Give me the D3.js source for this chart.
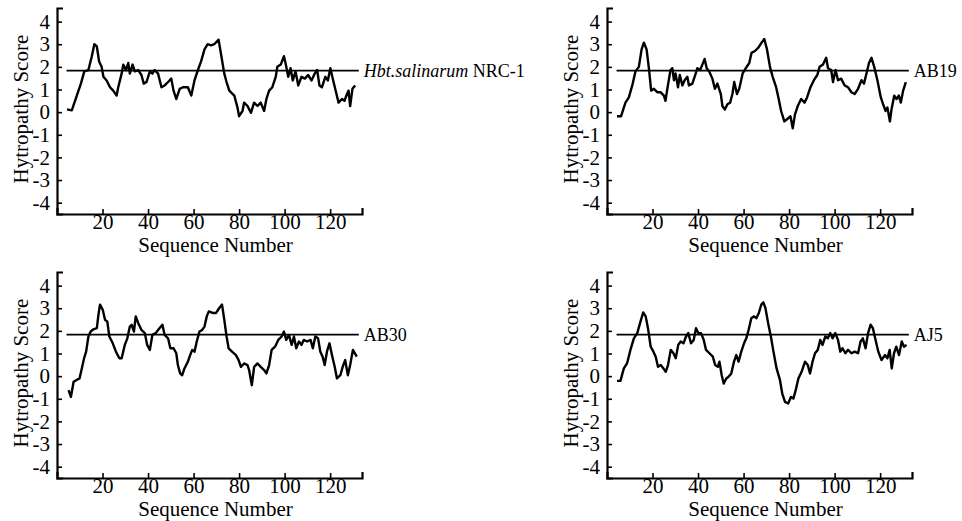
<!DOCTYPE html>
<html>
<head>
<meta charset="utf-8">
<script src="https://cdn.jsdelivr.net/npm/d3@7.9.0/dist/d3.min.js"></script>
<style>
  body { margin: 0; background: #fff; }
  svg { display: block; font-family: "Liberation Serif", "Times New Roman", serif; }
</style>
</head>
<body>
<svg id="chart" width="962" height="521"></svg>
<script>
// hydropathy profiles (sequence position, score)
const nrc1Seq = [4.4,6.5,8.7,10.5,12,13.8,15.3,16.4,17.5,18.5,19.6,20.4,21.8,23.3,24.7,26.2,26.9,28.4,29.1,30.3,
  31.3,32,33.2,34.2,35.7,37.1,38.1,39.3,40.8,41.9,42.9,44.4,45.9,47.3,48.8,50.2,51.2,52.4,53.9,55.3,
  57.5,59,60.4,61.9,63.3,64.8,66.2,67.7,69.1,71,72,73.5,74.5,75.7,77.9,79.3,80,81.5,82.2,83.7,
  85.2,86.6,88.1,89.5,91,92,93.2,94.6,96.1,96.8,98.3,99.7,100.4,101.6,102.6,103.6,104.8,106,107.4,108.9,
  110.3,111.8,113.2,114.3,115.3,116.4,117.9,119,120.1,121.5,122.6,123.7,125.2,126.3,127.4,128.1,128.8,129.8,131];
const nrc1Score = [0.12,0.08,0.73,1.26,1.8,1.86,2.47,3.0,2.9,2.24,2.0,1.56,1.4,1.1,0.95,0.73,1.1,1.7,2.1,1.86,
  2.17,1.7,2.1,1.8,1.86,1.64,1.26,1.33,1.8,1.7,1.86,1.7,1.1,1.18,1.33,1.48,0.95,0.58,1.03,1.1,
  1.1,0.73,1.4,1.86,2.24,2.77,3.0,2.95,3.0,3.2,2.6,1.7,1.33,0.95,0.73,0.2,-0.18,0.05,0.42,0.27,
  -0.03,0.42,0.27,0.42,0.05,0.58,0.95,1.1,1.56,2.0,2.1,2.47,2.17,1.56,1.94,1.4,1.8,1.18,1.56,1.48,
  1.64,1.4,1.7,1.86,1.18,1.1,1.56,1.4,1.94,1.33,0.88,0.42,0.58,0.5,0.8,0.95,0.27,1.03,1.18];

const ab19Seq = [4.4,6.2,8.1,9.6,11.1,12.5,14,15.2,16.2,17.4,18.4,19.4,20.6,22.1,23.5,25,25.7,26.5,27.9,28.7,
  29.4,30.1,31.2,32,33.1,34.1,35.3,36,37.5,39,39.7,40.9,41.9,42.9,43.8,44.9,46.3,47.4,48.5,50,
  50.7,51.8,52.9,54.1,55.1,55.9,57.1,58.1,59.6,61,62.5,63.5,65,66.5,67.9,69.1,70.3,71.6,72.8,74.3,
  75.3,76.5,77.9,79.4,80.6,81.6,82.6,83.8,85.3,86.8,87.9,89.4,90.9,92.4,93.4,94.9,96.3,97.1,98.5,99.3,
  100.4,101.5,102.9,104.4,105.9,107.4,108.8,110.3,111.8,112.9,114,115.1,116.2,117.4,118.8,120.3,121.3,122.4,123.2,124.3,
  125,126.2,127.2,128.2,129.1,130.1,131.3];
const ab19Score = [-0.18,-0.18,0.42,0.65,1.18,1.8,2.0,2.77,3.07,2.77,1.94,0.95,1.03,0.88,0.88,0.73,0.5,1.03,1.86,1.94,
  1.41,1.71,1.1,1.64,1.18,1.41,1.56,1.18,1.26,1.71,1.94,1.86,2.1,2.35,1.94,1.8,1.48,1.03,1.26,0.8,
  0.27,0.12,0.35,0.42,0.8,1.33,0.8,1.03,1.71,1.94,2.17,2.62,2.7,2.85,3.07,3.23,2.77,2.0,1.56,1.1,
  0.65,0.05,-0.41,-0.29,-0.18,-0.71,-0.1,0.27,0.58,0.42,0.65,1.1,1.41,1.64,2.0,2.1,2.4,1.94,1.86,1.33,
  1.86,1.41,1.48,1.18,1.1,0.88,0.8,1.03,1.41,1.26,1.71,2.17,2.4,2.0,1.41,0.65,0.35,0.05,0.2,-0.41,
  0.12,0.73,0.58,0.73,0.42,0.95,1.33];

const ab30Seq = [5.1,6.1,7.3,8.4,9.9,10.9,11.9,12.8,13.8,14.8,16,17.5,18.2,18.9,20.1,21.1,22.1,23,24.5,25.9,
  27.4,28.4,29.8,30.9,32,32.8,33.8,34.6,35.7,37.1,38.6,39.6,40.8,41.9,43.4,44.4,46.3,47.3,48.8,49.8,
  51.2,52.4,53.1,54.1,55,56,57.5,58.5,59.4,60.4,61.4,62.6,63.8,64.8,65.8,66.7,68.4,69.9,71.3,72.5,
  73.5,74.5,75.4,76.9,78.6,79.8,80.8,82.2,83.7,84.4,85.6,86.6,88.1,89.5,91,92,93.2,94.3,95.8,97.2,
  98.7,99.7,100.7,101.9,103.1,104.1,105.1,106.3,107.4,108.4,109.9,111.4,112.4,113.5,114.7,115.7,116.7,117.6,118.6,119.7,
  120.8,122,123,124.5,125.5,126.6,127.8,128.8,130,131.7];
const ab30Score = [-0.62,-0.92,-0.25,-0.18,-0.1,0.34,0.79,1.08,1.75,1.97,2.07,2.12,2.71,3.16,2.93,2.49,2.41,1.75,1.45,1.08,
  0.79,0.79,1.38,1.67,2.19,2.27,1.97,2.64,2.34,2.04,1.9,1.38,1.16,1.82,1.9,2.04,2.27,1.82,1.67,1.23,
  1.23,1.01,0.49,0.12,0.04,0.34,0.64,0.93,1.16,1.08,1.53,1.97,2.04,2.19,2.64,2.86,2.79,2.79,3.01,3.16,
  2.49,1.75,1.23,1.08,0.93,0.71,0.41,0.56,0.49,0.27,-0.4,0.41,0.56,0.41,0.27,0.12,0.49,1.16,1.3,1.6,
  1.75,1.97,1.6,1.82,1.38,1.75,1.23,1.53,1.38,1.6,1.53,1.6,1.23,1.75,1.67,1.08,0.86,0.49,1.08,1.45,
  0.93,0.41,-0.1,0.04,0.41,0.71,0.04,0.49,1.16,0.86];

const aj5Seq = [4.4,5.9,7.4,8.8,10.3,11.8,13.3,14.7,15.9,17,18,19.2,20.4,21.4,22.4,23.6,24.8,25.8,26.8,28,
  29.2,30.2,31.3,32.4,33.6,34.7,35.7,36.9,38.1,39.1,40.1,41.3,42.5,43.5,45,46.5,47.5,48.7,49.4,50.4,
  51.3,52.4,53.4,54.6,55.8,56.8,57.8,59,60.2,61.2,62.2,63.4,64.6,65.6,66.7,67.8,68.7,69.6,70.8,72,
  73,74.5,76,77,78.2,79.6,80.8,81.9,82.9,84.1,85.5,87,88.2,89.2,90.3,91.4,92.6,93.7,94.7,95.9,
  97,98.1,99.1,100.3,101.5,102.5,103.5,104.7,105.9,107.4,108.8,110.3,111.4,112.4,113.6,114.7,115.8,116.8,118,119.2,
  120.6,122.1,123.2,124.2,125.1,126.1,127.1,128.3,129.5,130.5,131.6];
const aj5Score = [-0.21,-0.21,0.34,0.56,1.16,1.67,1.9,2.41,2.81,2.64,2.12,1.3,1.08,0.86,0.41,0.49,0.34,0.19,0.49,1.16,
  1.01,0.79,1.38,1.53,1.45,1.75,1.9,1.45,1.6,2.12,1.9,1.9,1.6,1.16,1.01,0.86,0.49,0.41,0.64,0.04,
  -0.33,-0.1,-0.03,0.12,0.64,0.93,0.64,1.08,1.45,1.67,2.04,2.56,2.64,2.56,2.79,3.16,3.26,3.01,2.34,1.75,
  1.16,0.34,-0.18,-0.77,-1.14,-1.21,-0.92,-0.99,-0.62,-0.1,0.19,0.64,0.49,0.12,0.64,1.01,1.16,1.6,1.38,1.75,
  1.67,1.9,1.67,1.9,1.6,1.08,1.23,1.01,1.16,1.01,1.08,1.01,1.53,1.67,1.23,1.9,2.27,2.12,1.6,1.08,
  0.71,0.93,0.79,1.16,0.34,1.01,1.3,0.93,1.53,1.3,1.38];

const xTicks = [20, 40, 60, 80, 100, 120];
const yTicks = [-4, -3, -2, -1, 0, 1, 2, 3, 4];
const threshold = 1.83;
const lineSpan = [4.2, 132.6];

const panels = [
  { seq: nrc1Seq, score: nrc1Score, name: 'NRC-1', italic: 'Hbt.salinarum', left: 57, bottom: 214 },
  { seq: ab19Seq, score: ab19Score, name: 'AB19', italic: '', left: 607, bottom: 214 },
  { seq: ab30Seq, score: ab30Score, name: 'AB30', italic: '', left: 57, bottom: 478 },
  { seq: aj5Seq, score: aj5Score, name: 'AJ5', italic: '', left: 607, bottom: 478 },
];

const svg = d3.select('#chart');
const plotW = 305;
const plotH = 206;

panels.forEach((p) => {
  const x = d3.scaleLinear().domain([0, 134]).range([p.left, p.left + plotW]);
  const y = d3.scaleLinear().domain([-4.5, 4.6]).range([p.bottom, p.bottom - plotH]);
  const g = svg.append('g');

  // reference line
  g.append('line')
    .attr('x1', x(lineSpan[0])).attr('x2', x(lineSpan[1]))
    .attr('y1', y(threshold)).attr('y2', y(threshold))
    .attr('stroke', '#000').attr('stroke-width', 1.7);

  // profile
  const line = d3.line().x((d) => x(d[0])).y((d) => y(d[1]));
  g.append('path')
    .datum(d3.zip(p.seq, p.score))
    .attr('d', line)
    .attr('fill', 'none')
    .attr('stroke', '#000')
    .attr('stroke-width', 2.4)
    .attr('stroke-linejoin', 'round');

  // axes
  const yAxis = g.append('g')
    .attr('transform', `translate(${p.left},0)`)
    .call(d3.axisLeft(y).tickValues(yTicks).tickFormat((d) => String(d))
      .tickSizeInner(-5).tickSizeOuter(-6).tickPadding(7));
  const xAxis = g.append('g')
    .attr('transform', `translate(0,${p.bottom})`)
    .call(d3.axisBottom(x).tickValues(xTicks).tickFormat((d) => String(d))
      .tickSizeInner(-5).tickSizeOuter(-6).tickPadding(0));

  [yAxis, xAxis].forEach((a) => {
    a.attr('font-family', null).attr('font-size', null);
    a.select('.domain').attr('stroke-width', 2.2);
    a.selectAll('.tick line').attr('stroke-width', 1.6);
    a.selectAll('.tick text').attr('fill', '#000').style('font-size', '21px');
  });

  // axis titles
  g.append('text')
    .attr('x', p.left + plotW / 2 + 6)
    .attr('y', p.bottom + 38)
    .attr('text-anchor', 'middle')
    .style('font-size', '21px')
    .text('Sequence Number');

  g.append('text')
    .attr('transform', `translate(${p.left - 29},${y(0) - 3}) rotate(-90)`)
    .attr('text-anchor', 'middle')
    .style('font-size', '21px')
    .text('Hytropathy Score');

  // strain label
  const lbl = g.append('text')
    .attr('x', x(lineSpan[1]) + 5)
    .attr('y', y(threshold) + 6)
    .style('font-size', '18px');
  if (p.italic) {
    lbl.append('tspan').style('font-style', 'italic').text(p.italic);
    lbl.append('tspan').text(' ' + p.name);
  } else {
    lbl.text(p.name);
  }
});
</script>
</body>
</html>
